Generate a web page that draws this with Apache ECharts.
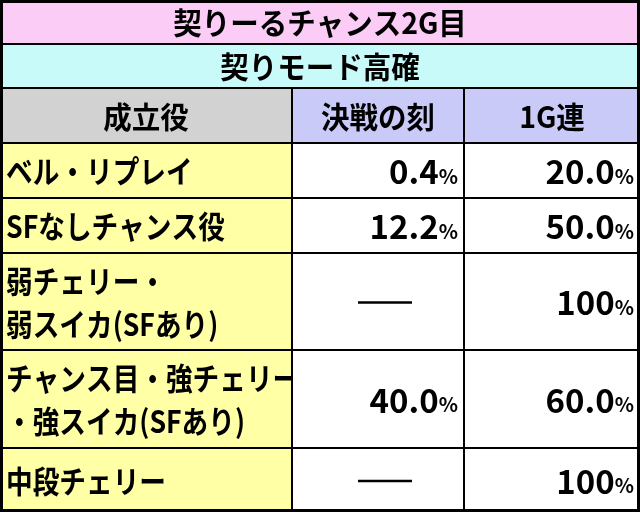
<!DOCTYPE html>
<html><head><meta charset="utf-8">
<script src="https://cdn.jsdelivr.net/npm/echarts@6/dist/echarts.min.js"></script>
<style>html,body{margin:0;padding:0;background:#fff}#c{width:640px;height:512px}</style>
</head><body><div id="c"></div>
<script>
const title = "契りーるチャンス2G目";
const subtitle = "契りモード高確";
const headers = ["成立役", "決戦の刻", "1G連"];
const roles = ["ベル・リプレイ", "SFなしチャンス役", "弱チェリー・\n弱スイカ(SFあり)", "チャンス目・強チェリー\n・強スイカ(SFあり)", "中段チェリー"];
const kessen = ["0.4", "12.2", null, "40.0", null];
const renzoku = ["20.0", "50.0", "100", "60.0", "100"];

// layout
const rowEdges = [0, 44, 88, 143, 198, 253, 350, 448, 512];
const colEdges = [0, 292, 464, 640];
const F = '"Noto Sans CJK JP", "Noto Sans", sans-serif';

const cells = [];
function add(r, c0, c1, fill, kind, text) {
  cells.push([colEdges[c0], rowEdges[r], colEdges[c1], rowEdges[r + 1], fill, kind, text]);
}
add(0, 0, 3, '#fbccf5', 'center', title);
add(1, 0, 3, '#c9fafa', 'center', subtitle);
add(2, 0, 1, '#d2d2d2', 'center', headers[0]);
add(2, 1, 2, '#cacaf8', 'center', headers[1]);
add(2, 2, 3, '#cacaf8', 'center', headers[2]);
roles.forEach((name, i) => {
  const r = i + 3;
  add(r, 0, 1, '#ffffa6', 'left', name);
  add(r, 1, 2, '#ffffff', kessen[i] == null ? 'dash' : 'value', kessen[i]);
  add(r, 2, 3, '#ffffff', 'value', renzoku[i]);
});

const chart = echarts.init(document.getElementById('c'));
chart.setOption({
  animation: false,
  grid: {left: 0, right: 0, top: 0, bottom: 0},
  xAxis: {type: 'value', min: 0, max: 640, show: false},
  yAxis: {type: 'value', min: 0, max: 512, inverse: true, show: false},
  series: [{
    type: 'custom',
    data: cells,
    clip: false,
    renderItem: function (params, api) {
      const p0 = api.coord([api.value(0), api.value(1)]);
      const p1 = api.coord([api.value(2), api.value(3)]);
      const d = cells[params.dataIndex];
      const x = p0[0], y = p0[1], w = p1[0] - p0[0], h = p1[1] - p0[1];
      const kind = d[5], text = d[6];
      const children = [{
        type: 'rect', shape: {x: x, y: y, width: w, height: h},
        style: {fill: d[4], stroke: '#000', lineWidth: 2}
      }];
      if (kind === 'center') {
        children.push({type: 'text', x: x + w / 2, y: y + h / 2 + 1, scaleX: 0.95,
          style: {x: 0, y: 0, text: text, align: 'center', verticalAlign: 'middle',
          font: 'bold 30px ' + F, fill: '#000'}});
      } else if (kind === 'left') {
        children.push({type: 'text', x: x + 6, y: y + h / 2 + 1, scaleX: 0.86,
          style: {x: 0, y: 0, text: text, align: 'left', verticalAlign: 'middle',
          font: 'bold 31px ' + F, fill: '#000', lineHeight: 43}});
      } else if (kind === 'dash') {
        children.push({type: 'line', shape: {x1: x + w / 2 - 20, y1: y + h / 2 + 1, x2: x + w / 2 + 34, y2: y + h / 2 + 1},
          style: {stroke: '#000', lineWidth: 2.5}});
      } else {
        children.push({type: 'text', style: {x: x + w - 6, y: y + h / 2 + 1, text: '{v|' + text + '}{p|%}', align: 'right', verticalAlign: 'middle',
          rich: {v: {font: 'bold 33px ' + F, fill: '#000'}, p: {font: 'bold 20px ' + F, fill: '#000', padding: [9, 0, 0, 0]}}}});
      }
      return {type: 'group', children: children};
    }
  }, {
    type: 'custom', data: [[0, 0, 640, 512]], clip: false,
    renderItem: function (params, api) {
      const p0 = api.coord([0, 0]), p1 = api.coord([640, 512]);
      return {type: 'rect', shape: {x: p0[0] + 1.5, y: p0[1] + 1.5, width: p1[0] - p0[0] - 3, height: p1[1] - p0[1] - 3},
        style: {fill: 'none', stroke: '#000', lineWidth: 3}};
    }
  }]
});
</script></body></html>
